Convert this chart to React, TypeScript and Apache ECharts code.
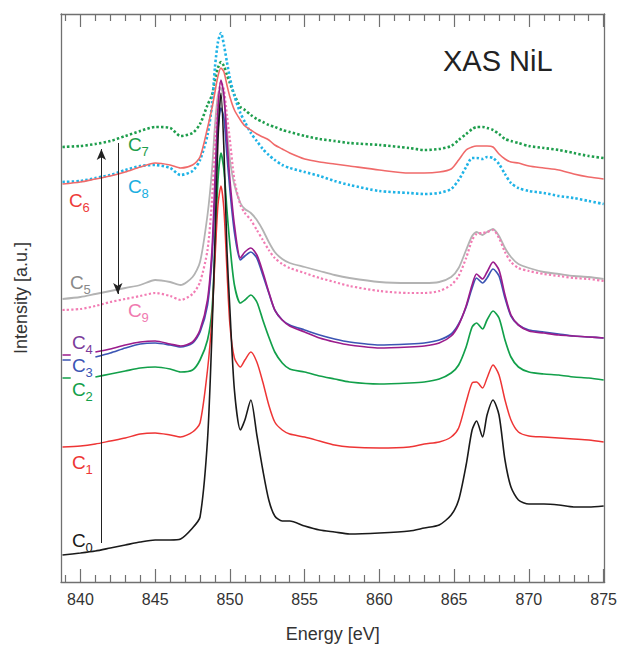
import React, { useEffect, useRef } from "react";
import * as echarts from "echarts";

// Energy grid [eV]
const ENERGY = [838.8, 840, 841, 842, 843, 844, 845, 846, 846.7, 847.5, 848, 848.5, 848.8, 849.0, 849.2, 849.4, 849.6, 849.8, 850.0, 850.3, 850.7, 851.0, 851.4, 851.8, 852.2, 852.6, 853.0, 853.5, 854, 855, 856, 857, 858, 860, 862, 863, 864, 864.8, 865.3, 865.8, 866.2, 866.5, 866.9, 867.2, 867.6, 868.0, 868.4, 868.8, 869.3, 870, 871, 872, 873, 874, 875];

// Offset intensities [a.u.]
const C0 = [0.27, 0.29, 0.31, 0.34, 0.37, 0.40, 0.42, 0.42, 0.43, 0.54, 0.65, 1.42, 2.49, 3.42, 4.42, 4.89, 4.32, 3.32, 2.72, 1.92, 1.52, 1.62, 1.82, 1.47, 1.12, 0.82, 0.66, 0.61, 0.61, 0.56, 0.52, 0.50, 0.48, 0.49, 0.51, 0.54, 0.57, 0.67, 0.82, 1.17, 1.52, 1.61, 1.45, 1.67, 1.82, 1.67, 1.22, 0.95, 0.82, 0.78, 0.78, 0.77, 0.75, 0.75, 0.76];
const C1 = [1.35, 1.36, 1.38, 1.41, 1.44, 1.48, 1.49, 1.47, 1.45, 1.50, 1.59, 2.12, 2.64, 3.22, 3.77, 3.96, 3.72, 3.12, 2.57, 2.24, 2.15, 2.22, 2.30, 2.20, 2.00, 1.77, 1.60, 1.52, 1.48, 1.45, 1.41, 1.37, 1.35, 1.34, 1.35, 1.38, 1.40, 1.45, 1.54, 1.80, 1.99, 2.00, 1.94, 2.04, 2.17, 2.07, 1.82, 1.62, 1.50, 1.46, 1.45, 1.44, 1.43, 1.42, 1.40];
const C2 = [null, null, 2.05, 2.08, 2.11, 2.14, 2.15, 2.13, 2.10, 2.12, 2.22, 2.42, 2.72, 3.32, 4.02, 4.29, 4.12, 3.72, 3.37, 2.97, 2.79, 2.82, 2.87, 2.80, 2.62, 2.45, 2.30, 2.19, 2.13, 2.10, 2.06, 2.03, 2.00, 1.98, 1.99, 2.00, 2.03, 2.09, 2.17, 2.35, 2.55, 2.59, 2.53, 2.62, 2.71, 2.64, 2.42, 2.25, 2.15, 2.10, 2.08, 2.07, 2.05, 2.04, 2.02];
const C3 = [null, null, 2.25, 2.29, 2.34, 2.38, 2.39, 2.37, 2.35, 2.39, 2.50, 2.77, 3.24, 3.87, 4.52, 4.74, 4.64, 4.27, 3.92, 3.50, 3.22, 3.26, 3.30, 3.24, 3.07, 2.89, 2.72, 2.62, 2.57, 2.52, 2.47, 2.43, 2.40, 2.37, 2.38, 2.39, 2.42, 2.48, 2.58, 2.75, 2.94, 3.04, 2.99, 3.04, 3.13, 3.06, 2.84, 2.66, 2.57, 2.52, 2.50, 2.48, 2.46, 2.45, 2.44];
const C4 = [null, null, 2.30, 2.33, 2.37, 2.40, 2.41, 2.38, 2.36, 2.40, 2.52, 2.82, 3.32, 4.02, 4.72, 5.02, 4.87, 4.42, 4.02, 3.57, 3.24, 3.30, 3.34, 3.27, 3.10, 2.90, 2.72, 2.62, 2.56, 2.50, 2.44, 2.40, 2.37, 2.34, 2.35, 2.36, 2.39, 2.46, 2.57, 2.76, 2.97, 3.08, 3.03, 3.10, 3.20, 3.12, 2.87, 2.67, 2.57, 2.51, 2.49, 2.47, 2.46, 2.45, 2.44];
const C5 = [2.83, 2.85, 2.88, 2.91, 2.94, 2.97, 3.02, 3.00, 2.97, 3.05, 3.20, 3.67, 4.12, 4.57, 4.87, 4.94, 4.82, 4.52, 4.22, 3.97, 3.79, 3.73, 3.69, 3.62, 3.52, 3.40, 3.30, 3.23, 3.19, 3.15, 3.11, 3.07, 3.04, 3.00, 2.99, 2.99, 3.00, 3.05, 3.14, 3.32, 3.46, 3.50, 3.47, 3.50, 3.53, 3.46, 3.34, 3.25, 3.18, 3.14, 3.10, 3.08, 3.06, 3.05, 3.03];
const C6 = [3.98, 4.00, 4.03, 4.06, 4.10, 4.15, 4.19, 4.17, 4.14, 4.17, 4.25, 4.54, 4.74, 4.90, 5.06, 5.14, 5.10, 4.97, 4.85, 4.72, 4.62, 4.56, 4.52, 4.48, 4.45, 4.42, 4.37, 4.33, 4.29, 4.23, 4.20, 4.18, 4.16, 4.12, 4.09, 4.09, 4.10, 4.13, 4.22, 4.32, 4.35, 4.36, 4.36, 4.36, 4.35, 4.28, 4.23, 4.20, 4.19, 4.16, 4.14, 4.12, 4.08, 4.05, 4.03];
const C7 = [4.35, 4.36, 4.38, 4.41, 4.46, 4.51, 4.55, 4.54, 4.46, 4.49, 4.58, 4.77, 4.87, 5.02, 5.14, 5.20, 5.16, 5.07, 4.99, 4.87, 4.75, 4.72, 4.67, 4.63, 4.60, 4.57, 4.55, 4.52, 4.50, 4.46, 4.43, 4.41, 4.39, 4.37, 4.34, 4.32, 4.33, 4.36, 4.42, 4.48, 4.53, 4.55, 4.55, 4.54, 4.52, 4.48, 4.43, 4.41, 4.39, 4.36, 4.34, 4.32, 4.29, 4.26, 4.24];
const C8 = [4.00, 4.01, 4.04, 4.07, 4.12, 4.16, 4.17, 4.14, 4.07, 4.11, 4.22, 4.47, 4.77, 5.15, 5.40, 5.49, 5.37, 5.20, 5.04, 4.86, 4.69, 4.60, 4.49, 4.41, 4.33, 4.27, 4.22, 4.17, 4.14, 4.10, 4.06, 4.01, 3.97, 3.91, 3.89, 3.88, 3.89, 3.93, 4.02, 4.15, 4.24, 4.24, 4.23, 4.25, 4.24, 4.18, 4.08, 3.99, 3.94, 3.91, 3.89, 3.86, 3.84, 3.81, 3.78];
const C9 = [2.72, 2.73, 2.76, 2.80, 2.83, 2.86, 2.89, 2.86, 2.82, 2.88, 3.00, 3.32, 3.82, 4.42, 4.82, 5.00, 4.92, 4.67, 4.42, 4.02, 3.77, 3.69, 3.62, 3.52, 3.42, 3.32, 3.24, 3.18, 3.14, 3.09, 3.04, 3.00, 2.96, 2.91, 2.89, 2.89, 2.91, 2.97, 3.06, 3.24, 3.42, 3.48, 3.49, 3.50, 3.52, 3.44, 3.30, 3.20, 3.14, 3.11, 3.08, 3.06, 3.04, 3.03, 3.01];

// short marker dashes at the left edge for C2..C4
const DASH_X = [838.8, 839.35];
const C2_DASH = 2.04;
const C3_DASH = 2.22;
const C4_DASH = 2.27;

// arrows [energy, intensity]
const ARROW_UP = [[841.4, 0.39], [841.4, 4.33]];
const ARROW_DOWN = [[842.5, 4.39], [842.5, 2.88]];

const X_MIN = 838.7;
const X_MAX = 875.07;
const Y_MIN = 0;
const Y_MAX = 5.68;
const MAJOR_TICKS = [840, 845, 850, 855, 860, 865, 870, 875];
const MINOR_TICKS = [839, 841, 842, 843, 844, 846, 847, 848, 849, 851, 852, 853, 854, 856, 857, 858, 859, 861, 862, 863, 864, 866, 867, 868, 869, 871, 872, 873, 874];

const FONT = '"Liberation Sans", Arial, Helvetica, sans-serif';
const AXIS_COLOR = "#707070";

function toData(vals: (number | null)[], dash?: number) {
  const out: any[] = [];
  if (dash !== undefined) {
    out.push([DASH_X[0], dash], [DASH_X[1], dash], [839.6, "-"]);
  }
  ENERGY.forEach((e, i) => {
    const v = vals[i];
    out.push([e, v === null ? "-" : v]);
  });
  return out;
}

function label(sub: string, x: number, y: number, color: string) {
  return {
    type: "group",
    children: [
      {
        type: "text",
        x,
        y,
        style: { text: "C", fill: color, fontSize: 19, fontFamily: FONT, align: "left", verticalAlign: "middle" },
      },
      {
        type: "text",
        x: x + 13.5,
        y: y + 7,
        style: { text: sub, fill: color, fontSize: 13, fontFamily: FONT, align: "left", verticalAlign: "middle" },
      },
    ],
  };
}

export default function App() {
  const ref = useRef<HTMLDivElement>(null);

  useEffect(() => {
    if (!ref.current) return;
    const chart = echarts.init(ref.current, undefined, { renderer: "svg" });

    const line = (name: string, data: any[], color: string, width: number, type: any = "solid", z = 2) => ({
      name,
      type: "line",
      data,
      showSymbol: false,
      symbol: "none",
      smooth: 0.25,
      z,
      lineStyle: { color, width, type },
      emphasis: { disabled: true },
    });

    const sC0: any = line("C0", toData(C0), "#1a1a1a", 1.6, "solid", 5);
    sC0.markLine = {
      silent: true,
      symbol: ["none", "arrow"],
      symbolSize: [7, 11],
      label: { show: false },
      lineStyle: { color: "#222", width: 1, type: "solid" },
      data: [
        [{ coord: ARROW_UP[0] }, { coord: ARROW_UP[1] }],
        [{ coord: ARROW_DOWN[0] }, { coord: ARROW_DOWN[1] }],
      ],
    };

    const option: any = {
      animation: false,
      backgroundColor: "#ffffff",
      grid: { left: 61, right: 14, top: 14, bottom: 66, containLabel: false },
      xAxis: [
        {
          type: "value",
          position: "bottom",
          min: X_MIN,
          max: X_MAX,
          name: "Energy [eV]",
          nameLocation: "middle",
          nameGap: 43,
          nameTextStyle: { fontSize: 18, color: "#333", fontFamily: FONT },
          axisLine: { show: true, lineStyle: { color: AXIS_COLOR, width: 1.3 } },
          axisTick: { show: true, inside: true, length: 13, customValues: MAJOR_TICKS, lineStyle: { color: AXIS_COLOR, width: 1.2 } },
          axisLabel: { show: true, customValues: MAJOR_TICKS, fontSize: 16, color: "#333", fontFamily: FONT, margin: 9 },
          splitLine: { show: false },
        },
        {
          type: "value",
          position: "bottom",
          min: X_MIN,
          max: X_MAX,
          axisLine: { show: false },
          axisTick: { show: true, inside: true, length: 7, customValues: MINOR_TICKS, lineStyle: { color: AXIS_COLOR, width: 1.2 } },
          axisLabel: { show: false },
          splitLine: { show: false },
        },
        {
          type: "value",
          position: "top",
          min: X_MIN,
          max: X_MAX,
          axisLine: { show: true, lineStyle: { color: AXIS_COLOR, width: 1.3 } },
          axisTick: { show: true, inside: true, length: 13, customValues: MAJOR_TICKS, lineStyle: { color: AXIS_COLOR, width: 1.2 } },
          axisLabel: { show: false },
          splitLine: { show: false },
        },
        {
          type: "value",
          position: "top",
          min: X_MIN,
          max: X_MAX,
          axisLine: { show: false },
          axisTick: { show: true, inside: true, length: 7, customValues: MINOR_TICKS, lineStyle: { color: AXIS_COLOR, width: 1.2 } },
          axisLabel: { show: false },
          splitLine: { show: false },
        },
      ],
      yAxis: [
        {
          type: "value",
          position: "left",
          min: Y_MIN,
          max: Y_MAX,
          name: "Intensity [a.u.]",
          nameLocation: "middle",
          nameRotate: 90,
          nameGap: 31,
          nameTextStyle: { fontSize: 18, color: "#333", fontFamily: FONT },
          axisLine: { show: true, lineStyle: { color: AXIS_COLOR, width: 1.3 } },
          axisTick: { show: false },
          axisLabel: { show: false },
          splitLine: { show: false },
        },
        {
          type: "value",
          position: "right",
          min: Y_MIN,
          max: Y_MAX,
          axisLine: { show: true, lineStyle: { color: AXIS_COLOR, width: 1.3 } },
          axisTick: { show: false },
          axisLabel: { show: false },
          splitLine: { show: false },
        },
      ],
      series: [
        line("C7", toData(C7), "#1e9e4c", 2.6, [2.4, 2.2]),
        line("C8", toData(C8), "#1fb3e6", 2.6, [2.4, 2.2]),
        line("C6", toData(C6), "#f06a6a", 1.6),
        line("C5", toData(C5), "#b3b3b3", 1.8),
        line("C9", toData(C9), "#f27db4", 2.2, [2.2, 2.2]),
        line("C3", toData(C3, C3_DASH), "#3c55b4", 1.7),
        line("C4", toData(C4, C4_DASH), "#9b1c8c", 1.7),
        line("C2", toData(C2, C2_DASH), "#12a04a", 1.7),
        line("C1", toData(C1), "#ee3535", 1.5),
        sC0,
      ],
      graphic: [
        {
          type: "text",
          x: 443,
          y: 61,
          style: { text: "XAS NiL", fill: "#222", fontSize: 29, fontFamily: FONT, align: "left", verticalAlign: "middle" },
        },
        label("0", 72, 540, "#1a1a1a"),
        label("1", 72, 462, "#ee3535"),
        label("2", 72, 389, "#12a04a"),
        label("3", 72, 365, "#3c55b4"),
        label("4", 72, 342, "#7b3b9b"),
        label("5", 70, 282, "#8a8a8a"),
        label("6", 69, 200, "#ee3b3b"),
        label("7", 128, 144, "#1e9e4c"),
        label("8", 128, 186, "#1aaee0"),
        label("9", 128, 310, "#f07ab0"),
      ],
    };

    chart.setOption(option);
    return () => chart.dispose();
  }, []);

  return <div ref={ref} style={{ position: "fixed", left: 0, top: 0, width: 620, height: 648 }} />;
}
